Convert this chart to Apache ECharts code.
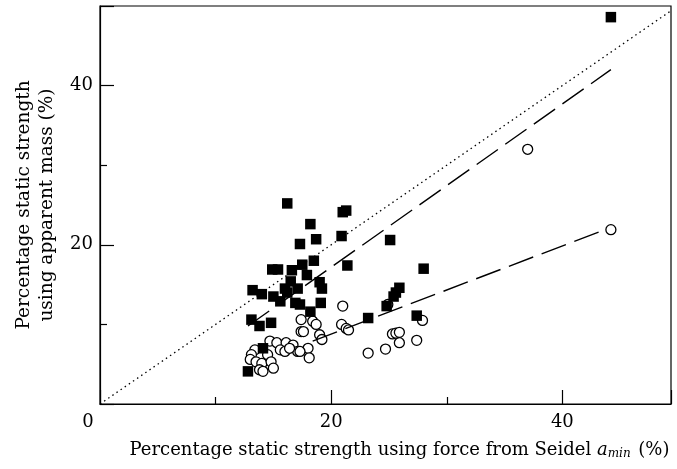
<!doctype html>
<html>
  <head>
    <meta charset="utf-8">
    <script src="https://cdn.jsdelivr.net/npm/echarts@6/dist/echarts.min.js"></script>
  </head>
  <body style="margin:0;background:#fff;">
    <div id="main" style="width:677px;height:469px;"></div>
  </body>
  <script>
   // filled squares: [seidel a_min %, apparent mass %]
   var squares = [
     [12.8,4.1],[13.1,10.6],[13.8,9.8],[14.8,10.2],[14.1,7.0],[13.2,14.3],[14.0,13.8],
     [15.0,13.5],[15.6,12.9],[16.2,14.0],[16.9,12.7],[16.0,14.5],[17.1,14.5],[16.5,15.4],
     [14.9,16.9],[15.4,16.9],[16.6,16.8],[17.5,17.5],[17.3,20.1],[16.2,25.2],[18.2,22.6],
     [18.7,20.7],[20.9,21.1],[21.0,24.1],[21.3,24.3],[18.5,18.0],[21.4,17.4],[28.0,17.0],
     [17.9,16.2],[19.0,15.3],[19.2,14.5],[25.9,14.6],[19.1,12.7],[17.3,12.5],[18.2,11.6],
     [25.4,13.5],[25.6,14.0],[24.8,12.3],[23.2,10.8],[27.4,11.1],[25.1,20.6],[44.2,48.6]
   ];
   // open circles
   var circles = [
     [17.4,10.6],[17.4,9.1],[14.7,7.9],[15.3,7.7],[16.1,7.7],[16.7,7.4],[17.1,6.6],
     [13.4,6.8],[13.1,6.2],[13.0,5.6],[13.5,5.3],[14.0,5.1],[14.5,6.2],[14.8,5.3],
     [13.8,4.3],[15.0,4.5],[15.6,6.8],[16.0,6.6],[16.4,7.0],[14.1,4.1],[21.0,12.3],
     [18.4,10.4],[18.7,10.0],[17.6,9.1],[20.9,10.0],[21.3,9.5],[21.5,9.3],[19.0,8.7],
     [19.2,8.1],[18.0,7.0],[18.1,5.8],[17.3,6.6],[23.2,6.4],[24.7,6.9],[25.9,7.7],
     [25.3,8.8],[25.6,8.9],[25.9,9.0],[27.4,8.0],[27.9,10.5],[24.9,12.5],[37.0,32.0],
     [44.2,21.9]
   ];
   // fitted lines and the line of equality (end points)
   var squareFit = [[12.8,9.8],[44.2,42.0]];
   var circleFit = [[18.4,7.9],[43.5,21.8]];
   var equality = [[0,0],[49.4,49.4]];
   var xLabels = [0, 20, 40];
   var yLabels = [20, 40];

   var font = 'DejaVu Serif';
   var chart = echarts.init(document.getElementById('main'));

   var option = {
     backgroundColor: '#fff',
     animation: false,
     grid: {
       left: 100, right: 6, top: 6, bottom: 65,
       show: true, borderColor: '#000', borderWidth: 1.2
     },
     xAxis: {
       type: 'value', min: 0, max: 49.4, interval: 20,
       axisLine: {lineStyle: {color: '#000', width: 1.2}},
       axisTick: {inside: true, length: 14, lineStyle: {color: '#000', width: 1.2}},
       minorTick: {show: true, splitNumber: 2, length: 7, lineStyle: {color: '#000', width: 1.2}},
       splitLine: {show: false},
       axisLabel: {
         showMaxLabel: false, margin: 9, color: '#000', fontFamily: font, fontSize: 18,
         formatter: function (v) {
           if (v === 0) return '{z|0}';
           return xLabels.indexOf(v) >= 0 ? String(v) : '';
         },
         rich: {z: {fontFamily: font, fontSize: 18, color: '#000', padding: [0, 24, 0, 0]}}
       },
       name: 'Percentage static strength using force from Seidel {i|a}{s|min} (%)',
       nameLocation: 'middle', nameGap: 37,
       nameTextStyle: {
         color: '#000', fontFamily: font, fontSize: 18, padding: [0, 0, 0, 28],
         rich: {
           i: {fontFamily: font, fontSize: 18, fontStyle: 'italic', color: '#000'},
           s: {fontFamily: font, fontSize: 12, fontStyle: 'italic', color: '#000', padding: [7, 2, 0, 0]}
         }
       }
     },
     yAxis: {
       type: 'value', min: 0, max: 50, interval: 20,
       axisLine: {lineStyle: {color: '#000', width: 1.2}},
       axisTick: {inside: true, length: 14, lineStyle: {color: '#000', width: 1.2}},
       minorTick: {show: true, splitNumber: 2, length: 7, lineStyle: {color: '#000', width: 1.2}},
       splitLine: {show: false},
       axisLabel: {
         showMaxLabel: false, margin: 7, color: '#000', fontFamily: font, fontSize: 18,
         formatter: function (v) { return yLabels.indexOf(v) >= 0 ? String(v) : ''; }
       },
       name: 'Percentage static strength\nusing apparent mass (%)',
       nameLocation: 'middle', nameGap: 41,
       nameTextStyle: {color: '#000', fontFamily: font, fontSize: 18.5, lineHeight: 23}
     },
     series: [
       {
         type: 'line', data: equality, symbol: 'none', silent: true,
         lineStyle: {color: '#000', width: 1.3, type: [1.5, 3.5]}
       },
       {
         type: 'line', data: squareFit, symbol: 'none', silent: true,
         lineStyle: {color: '#000', width: 1.4, type: [26, 9]}
       },
       {
         type: 'line', data: circleFit, symbol: 'none', silent: true,
         lineStyle: {color: '#000', width: 1.4, type: [26, 9]}
       },
       {
         type: 'scatter', data: circles, symbol: 'circle', symbolSize: 10,
         itemStyle: {color: '#fff', borderColor: '#000', borderWidth: 1.3, opacity: 1}
       },
       {
         type: 'scatter', data: squares, symbol: 'rect', symbolSize: 10.5,
         itemStyle: {color: '#000', opacity: 1}
       }
     ]
   };
   chart.setOption(option);
  </script>
</html>
